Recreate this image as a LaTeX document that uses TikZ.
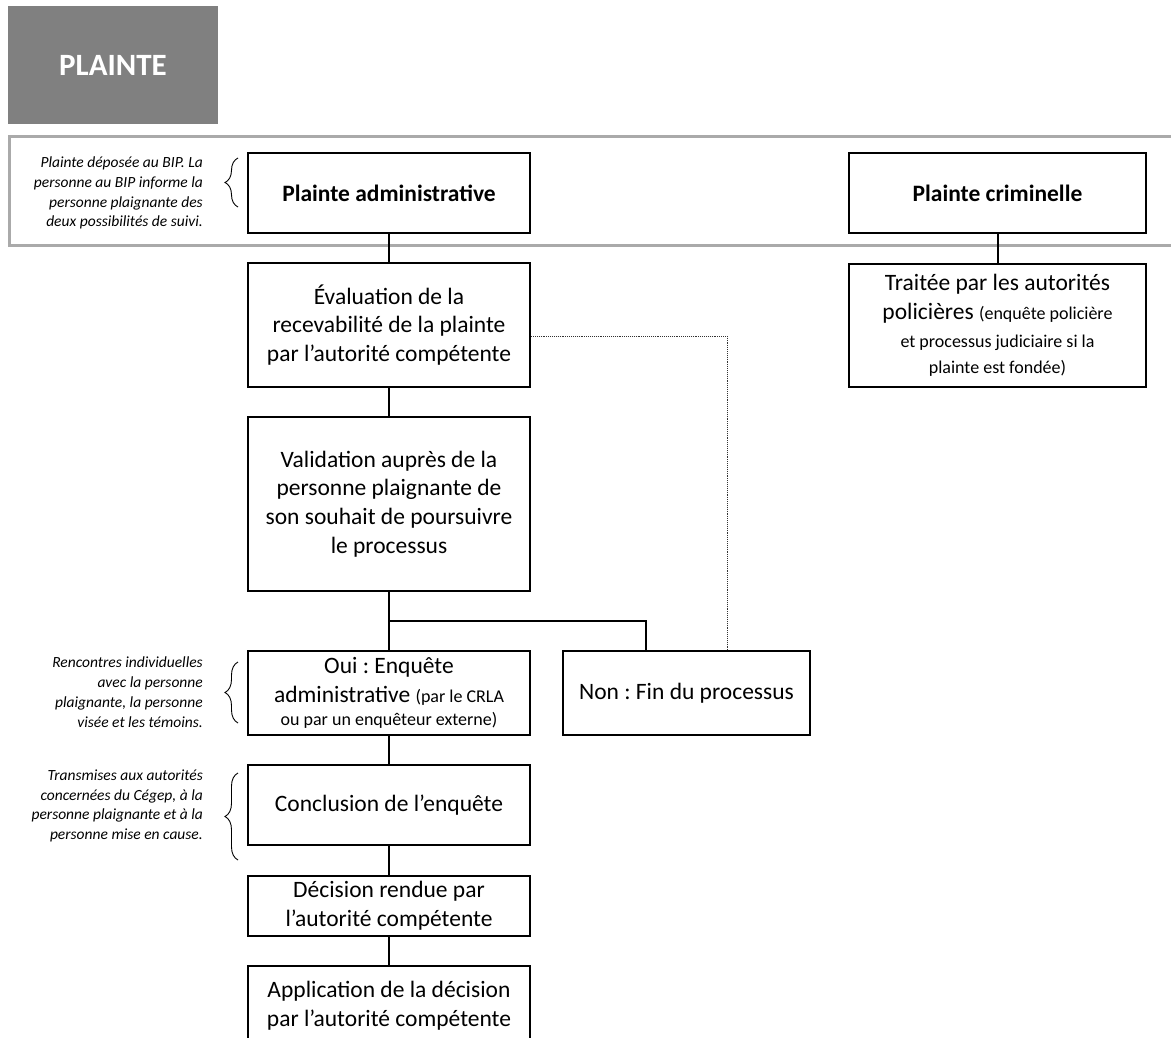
\documentclass[tikz,border=0pt]{standalone}
\usepackage{fontspec}
\setmainfont{Carlito}
\usetikzlibrary{decorations.pathreplacing}
\definecolor{framegray}{RGB}{170,170,170}
\definecolor{titlegray}{RGB}{128,128,128}
\newcommand{\mainsz}{\fontsize{23.5}{28.7}\selectfont\frenchspacing}
\newcommand{\smallsz}{\fontsize{18}{23}\selectfont}
\newcommand{\notesz}{\fontsize{15.5}{19.8}\selectfont\frenchspacing}
\frenchspacing
\begin{document}
\begin{tikzpicture}[x=1pt,y=-1pt,
 box/.style={draw=black, line width=2.2pt, align=center, inner sep=0pt, font=\mainsz},
 conn/.style={line width=2pt},
 dotline/.style={line width=0.9pt, densely dotted, black!80},
 note/.style={anchor=east, align=right, font=\notesz\itshape, inner sep=0pt},
 brc/.style={decorate, decoration={brace, amplitude=13pt}, line width=0.9pt}]
\useasboundingbox (0,0) rectangle (1171,1038);
\clip (0,0) rectangle (1171,1038);
% title
\node[fill=titlegray, minimum width=210pt, minimum height=118pt, inner sep=0pt,
  text=white, font=\fontsize{31}{36}\selectfont\bfseries] (title) at (113,65) {PLAINTE};
% gray frame
\draw[framegray, line width=3pt] (1190,137) -- (9,137) -- (9,245) -- (1190,245);
% boxes
\node[box, minimum width=282pt, minimum height=80pt, font=\mainsz\bfseries] (admin) at (389,193) {Plainte administrative};
\node[box, minimum width=297pt, minimum height=80pt, font=\mainsz\bfseries] (crim) at (997.5,193) {Plainte criminelle};
\node[box, minimum width=282pt, minimum height=124pt] (eval) at (389,325) {Évaluation de la\\recevabilité de la plainte\\par l’autorité compétente};
\node[box, minimum width=297pt, minimum height=123pt] (trait) at (997.5,325.5) {Traitée par les autorités\\policières {\smallsz (enquête policière}\\[-1pt]{\smallsz et processus judiciaire si la}\\[-2pt]{\smallsz plainte est fondée)}};
\node[box, minimum width=282pt, minimum height=174pt] (valid) at (389,504) {Validation auprès de la\\personne plaignante de\\son souhait de poursuivre\\le processus};
\node[box, minimum width=282pt, minimum height=84pt] (oui) at (389,693) {Oui : Enquête\\administrative {\smallsz (par le CRLA}\\[-5pt]{\smallsz ou par un enquêteur externe)}};
\node[box, minimum width=247pt, minimum height=84pt] (non) at (686.5,693) {Non : Fin du processus};
\node[box, minimum width=282pt, minimum height=80pt] (concl) at (389,805) {Conclusion de l’enquête};
\node[box, minimum width=282pt, minimum height=60pt] (dec) at (389,906) {Décision rendue par\\l’autorité compétente};
\node[box, minimum width=282pt, minimum height=80pt] (app) at (389,1006) {Application de la décision\\par l’autorité compétente};
% connectors
\draw[conn] (admin) -- (eval);
\draw[conn] (crim) -- (trait);
\draw[conn] (eval) -- (valid);
\coordinate (split) at (389,621);
\coordinate (splitR) at (646,621);
\draw[conn] (valid.south) -- (split) -- (oui.north);
\draw[conn] (split) -- (splitR) -- (splitR |- non.north);
\draw[conn] (oui) -- (concl);
\draw[conn] (concl) -- (dec);
\draw[conn] (dec) -- (app);
\coordinate (dk) at (727,336);
\draw[dotline] (eval.east |- dk) -- (dk) -- (dk |- non.north);
% notes
\node[note] (n1) at (203,193) {Plainte déposée au BIP. La\\personne au BIP informe la\\personne plaignante des\\deux possibilités de suivi.};
\node[note] (n2) at (203,692) {Rencontres individuelles\\avec la personne\\plaignante, la personne\\visée et les témoins.};
\node[note] (n3) at (203,806) {Transmises aux autorités\\concernées du Cégep, à la\\personne plaignante et à la\\personne mise en cause.};
\draw[brc] (238,207) -- (238,158);
\draw[brc] (238,723) -- (238,662);
\draw[brc] (238,860) -- (238,773);
\end{tikzpicture}
\end{document}
